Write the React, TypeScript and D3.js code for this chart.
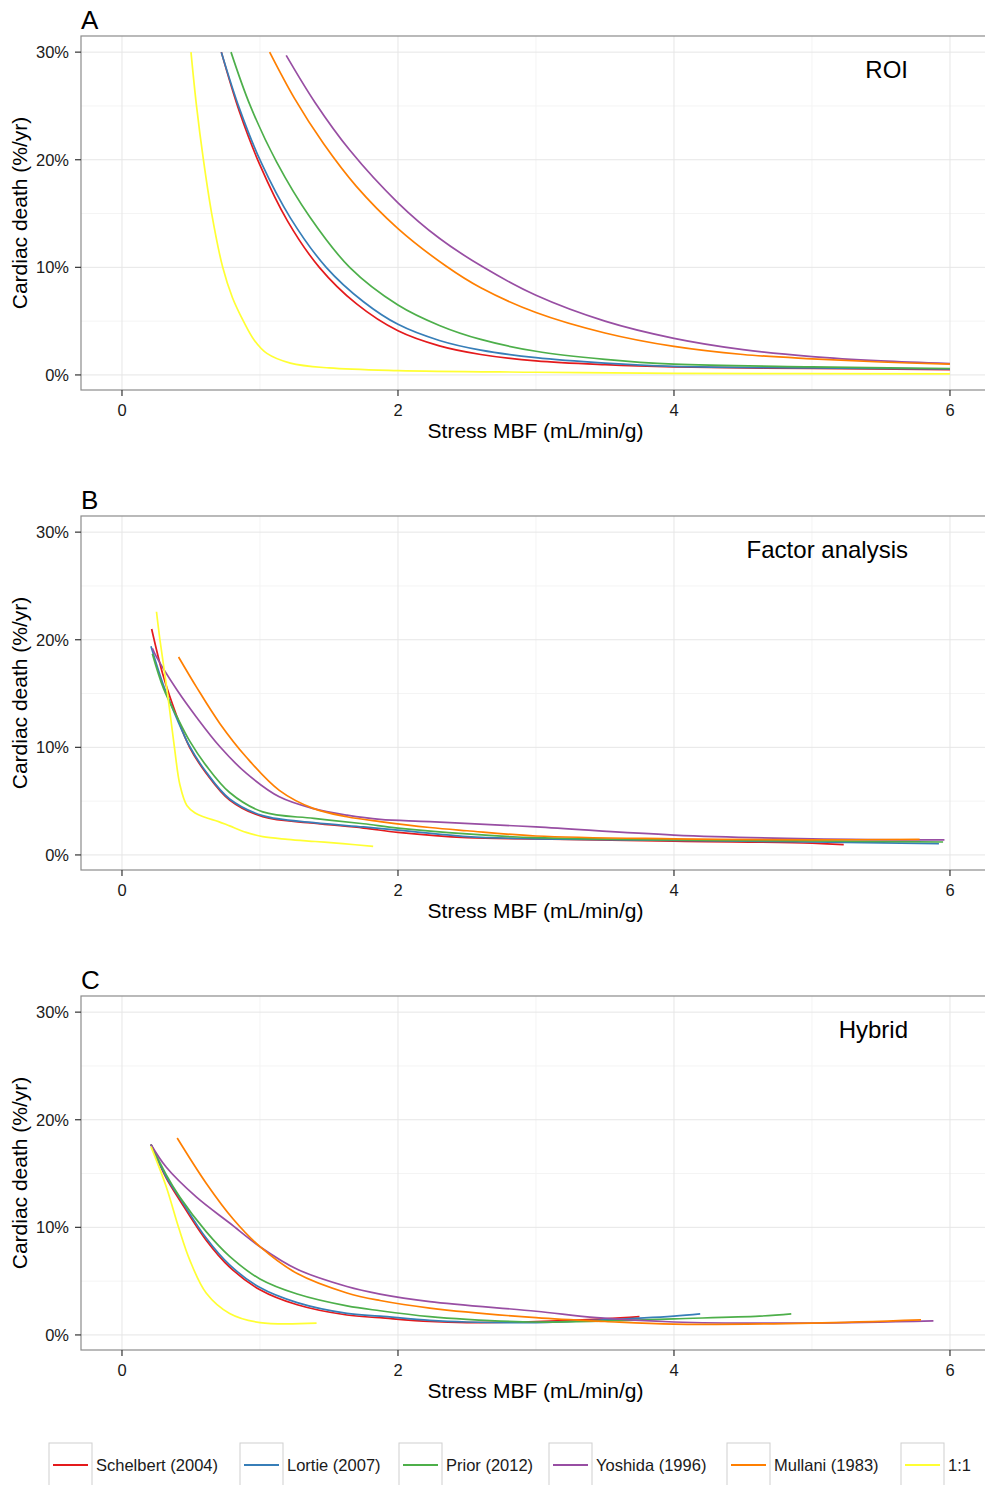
import React from 'react';
import * as d3 from 'd3';

// series names and colours (ColorBrewer Set1)
const seriesNames = ['Schelbert (2004)', 'Lortie (2007)', 'Prior (2012)', 'Yoshida (1996)', 'Mullani (1983)', '1:1'];
const seriesColors = ['#E41A1C', '#377EB8', '#4DAF4A', '#984EA3', '#FF7F00', '#FFFF33'];

const panelLetters = ['A', 'B', 'C'];
const panelLabels = ['ROI', 'Factor analysis', 'Hybrid'];

const xTicks = [0, 2, 4, 6];
const xMinor = [1, 3, 5];
const yTicks = [0, 10, 20, 30];
const yMinor = [5, 15, 25];

// [stress MBF, cardiac death %/yr]
// A - ROI
const roiSchelbert = [[0.72, 30], [0.85, 24.5], [1.0, 19.5], [1.2, 14.3], [1.43, 10], [1.7, 6.6], [2.0, 4.1], [2.3, 2.7], [2.6, 1.9], [3.0, 1.3], [3.5, 0.95], [4.0, 0.75], [5.0, 0.6], [6.0, 0.5]];
const roiLortie = [[0.72, 30], [0.85, 24.8], [1.01, 19.7], [1.22, 14.6], [1.48, 10], [1.75, 6.8], [2.0, 4.7], [2.3, 3.2], [2.6, 2.3], [3.0, 1.6], [3.5, 1.1], [4.0, 0.8], [5.0, 0.65], [6.0, 0.55]];
const roiPrior = [[0.79, 30], [0.93, 25], [1.12, 19.8], [1.36, 14.7], [1.65, 10], [2.0, 6.5], [2.3, 4.6], [2.6, 3.3], [3.0, 2.2], [3.5, 1.45], [4.0, 1.0], [5.0, 0.75], [6.0, 0.6]];
const roiYoshida = [[1.19, 29.7], [1.4, 25.3], [1.65, 20.9], [2.0, 16.0], [2.3, 12.7], [2.62, 10.0], [3.0, 7.4], [3.5, 5.0], [4.0, 3.4], [4.5, 2.35], [5.0, 1.7], [5.5, 1.3], [6.0, 1.05]];
const roiMullani = [[1.07, 30], [1.25, 25.7], [1.46, 21.5], [1.7, 17.5], [2.0, 13.6], [2.35, 10.1], [2.6, 8.1], [3.0, 5.8], [3.5, 3.9], [4.0, 2.65], [4.5, 1.9], [5.0, 1.5], [5.5, 1.2], [6.0, 1.0]];
const roiOneToOne = [[0.5, 30], [0.54, 25], [0.59, 20], [0.65, 15], [0.73, 10], [0.8, 7.2], [0.88, 5], [0.96, 3.2], [1.05, 2.0], [1.22, 1.1], [1.5, 0.65], [2.0, 0.4], [3.0, 0.25], [4.0, 0.15], [6.0, 0.1]];

// B - Factor analysis
const facSchelbert = [[0.215, 21], [0.3, 16.6], [0.4, 12.8], [0.49, 10], [0.61, 7.6], [0.78, 5.1], [1.02, 3.55], [1.39, 2.95], [1.75, 2.5], [2.0, 2.1], [2.5, 1.6], [3.0, 1.5], [4.0, 1.27], [5.0, 1.1], [5.23, 0.95]];
const facLortie = [[0.21, 19.4], [0.3, 15.8], [0.4, 12.6], [0.49, 10.1], [0.61, 7.7], [0.78, 5.2], [1.02, 3.65], [1.39, 3.0], [1.75, 2.6], [2.0, 2.3], [2.5, 1.7], [3.0, 1.5], [4.0, 1.35], [5.0, 1.2], [5.92, 1.05]];
const facPrior = [[0.22, 18.7], [0.3, 15.5], [0.4, 12.8], [0.49, 10.6], [0.61, 8.3], [0.78, 5.8], [1.02, 4.0], [1.39, 3.4], [1.75, 2.9], [2.0, 2.5], [2.5, 1.95], [3.0, 1.6], [4.0, 1.4], [5.0, 1.3], [5.95, 1.2]];
const facYoshida = [[0.22, 19.2], [0.25, 18.4], [0.4, 15.3], [0.54, 12.8], [0.71, 10.05], [0.9, 7.6], [1.14, 5.4], [1.39, 4.3], [1.63, 3.7], [1.87, 3.3], [2.23, 3.1], [3.0, 2.6], [4.0, 1.85], [5.0, 1.5], [5.96, 1.4]];
const facMullani = [[0.41, 18.4], [0.54, 15.6], [0.71, 12.2], [0.9, 9.1], [1.14, 6.0], [1.39, 4.3], [1.63, 3.55], [1.87, 3.1], [2.23, 2.55], [2.5, 2.25], [3.0, 1.76], [4.0, 1.5], [5.0, 1.4], [5.78, 1.45]];
const facOneToOne = [[0.25, 22.6], [0.275, 20], [0.33, 15], [0.38, 10], [0.42, 6.5], [0.47, 4.6], [0.53, 3.9], [0.6, 3.5], [0.7, 3.1], [0.78, 2.7], [0.9, 2.1], [1.02, 1.7], [1.2, 1.45], [1.4, 1.25], [1.6, 1.05], [1.82, 0.8]];

// C - Hybrid
const hybSchelbert = [[0.21, 17.7], [0.32, 14.6], [0.42, 12.5], [0.61, 8.8], [0.78, 6.3], [1.0, 4.2], [1.27, 2.8], [1.63, 1.85], [1.87, 1.6], [2.23, 1.25], [2.5, 1.15], [3.0, 1.25], [3.5, 1.5], [3.75, 1.7]];
const hybLortie = [[0.21, 17.7], [0.32, 14.7], [0.42, 12.7], [0.61, 9.0], [0.78, 6.5], [1.0, 4.4], [1.27, 3.0], [1.63, 2.0], [1.87, 1.75], [2.23, 1.35], [2.5, 1.2], [3.0, 1.15], [3.5, 1.4], [4.0, 1.75], [4.19, 1.95]];
const hybPrior = [[0.21, 17.7], [0.32, 14.9], [0.42, 12.8], [0.61, 9.6], [0.78, 7.3], [1.0, 5.2], [1.27, 3.8], [1.63, 2.7], [1.87, 2.25], [2.23, 1.7], [2.5, 1.45], [3.0, 1.2], [3.5, 1.3], [4.0, 1.5], [4.62, 1.75], [4.85, 1.95]];
const hybYoshida = [[0.21, 17.7], [0.32, 15.6], [0.54, 12.8], [0.78, 10.4], [1.0, 8.2], [1.27, 6.1], [1.63, 4.5], [1.87, 3.8], [2.23, 3.1], [3.0, 2.2], [3.44, 1.6], [4.0, 1.2], [5.0, 1.1], [5.88, 1.3]];
const hybMullani = [[0.4, 18.3], [0.61, 14.1], [0.81, 10.7], [1.0, 8.2], [1.27, 5.7], [1.63, 3.9], [1.87, 3.2], [2.23, 2.5], [3.0, 1.6], [3.5, 1.25], [4.0, 1.0], [5.0, 1.1], [5.79, 1.4]];
const hybOneToOne = [[0.21, 17.5], [0.32, 13.8], [0.41, 10], [0.49, 7], [0.61, 3.9], [0.78, 2.0], [1.0, 1.15], [1.41, 1.1]];

const panelData = [
  [roiSchelbert, roiLortie, roiPrior, roiYoshida, roiMullani, roiOneToOne],
  [facSchelbert, facLortie, facPrior, facYoshida, facMullani, facOneToOne],
  [hybSchelbert, hybLortie, hybPrior, hybYoshida, hybMullani, hybOneToOne],
];

const legendX = [49, 240, 399, 549, 727, 901];

const font = '"Liberation Sans", Arial, Helvetica, sans-serif';

const Panel = ({ index }: { index: number }) => {
  const top = 36 + index * 480;
  const bottom = top + 354;
  const left = 81;
  const right = 990;

  const x = d3.scaleLinear().domain([-0.297, 6.29]).range([left, right]);
  const y = d3.scaleLinear().domain([-1.4, 31.5]).range([bottom, top]);

  const line = d3.line<number[]>()
    .x(d => x(d[0]))
    .y(d => y(d[1]))
    .curve(d3.curveCatmullRom.alpha(0.5));

  return (
    <g>
      <rect x={left} y={top} width={right - left} height={bottom - top} fill="#fff" />
      {xMinor.map(t => (
        <line key={'xm' + t} x1={x(t)} x2={x(t)} y1={top} y2={bottom} stroke="#f4f4f4" strokeWidth={1} />
      ))}
      {yMinor.map(t => (
        <line key={'ym' + t} x1={left} x2={right} y1={y(t)} y2={y(t)} stroke="#f4f4f4" strokeWidth={1} />
      ))}
      {xTicks.map(t => (
        <line key={'xg' + t} x1={x(t)} x2={x(t)} y1={top} y2={bottom} stroke="#e6e6e6" strokeWidth={1} />
      ))}
      {yTicks.map(t => (
        <line key={'yg' + t} x1={left} x2={right} y1={y(t)} y2={y(t)} stroke="#e6e6e6" strokeWidth={1} />
      ))}

      {panelData[index].map((pts, i) => (
        <path key={i} d={line(pts) || ''} fill="none" stroke={seriesColors[i]} strokeWidth={1.7} />
      ))}

      <rect x={left} y={top} width={right - left} height={bottom - top} fill="none" stroke="#8c8c8c" strokeWidth={1.2} />

      {yTicks.map(t => (
        <g key={'yt' + t}>
          <line x1={left - 6} x2={left} y1={y(t)} y2={y(t)} stroke="#333" strokeWidth={1.2} />
          <text x={left - 12} y={y(t)} dy="0.35em" textAnchor="end" fontSize={16.5} fill="#1a1a1a" fontFamily={font}>
            {t + '%'}
          </text>
        </g>
      ))}
      {xTicks.map(t => (
        <g key={'xt' + t}>
          <line x1={x(t)} x2={x(t)} y1={bottom} y2={bottom + 6} stroke="#333" strokeWidth={1.2} />
          <text x={x(t)} y={bottom + 26} textAnchor="middle" fontSize={16.5} fill="#1a1a1a" fontFamily={font}>
            {t}
          </text>
        </g>
      ))}

      <text x={(left + right) / 2} y={bottom + 48} textAnchor="middle" fontSize={21} fill="#000" fontFamily={font}>
        Stress MBF (mL/min/g)
      </text>
      <text
        transform={`translate(27,${(top + bottom) / 2}) rotate(-90)`}
        textAnchor="middle"
        fontSize={21}
        fill="#000"
        fontFamily={font}
      >
        Cardiac death (%/yr)
      </text>
      <text x={81} y={top - 7} fontSize={26} fill="#000" fontFamily={font}>
        {panelLetters[index]}
      </text>
      <text x={908} y={top + 42} textAnchor="end" fontSize={24} fill="#000" fontFamily={font}>
        {panelLabels[index]}
      </text>
    </g>
  );
};

const Legend = () => (
  <g>
    {seriesNames.map((name, i) => (
      <g key={name}>
        <rect x={legendX[i]} y={1443} width={43} height={46} fill="#fff" stroke="#cfcfcf" strokeWidth={1} />
        <line x1={legendX[i] + 4} x2={legendX[i] + 39} y1={1465} y2={1465} stroke={seriesColors[i]} strokeWidth={2} />
        <text x={legendX[i] + 47} y={1465} dy="0.35em" fontSize={16.5} fill="#1a1a1a" fontFamily={font}>
          {name}
        </text>
      </g>
    ))}
  </g>
);

export default function App() {
  return (
    <svg
      width={985}
      height={1485}
      style={{ position: 'absolute', top: 0, left: 0, background: '#fff' }}
    >
      {panelLetters.map((_, i) => (
        <Panel key={i} index={i} />
      ))}
      <Legend />
    </svg>
  );
}
